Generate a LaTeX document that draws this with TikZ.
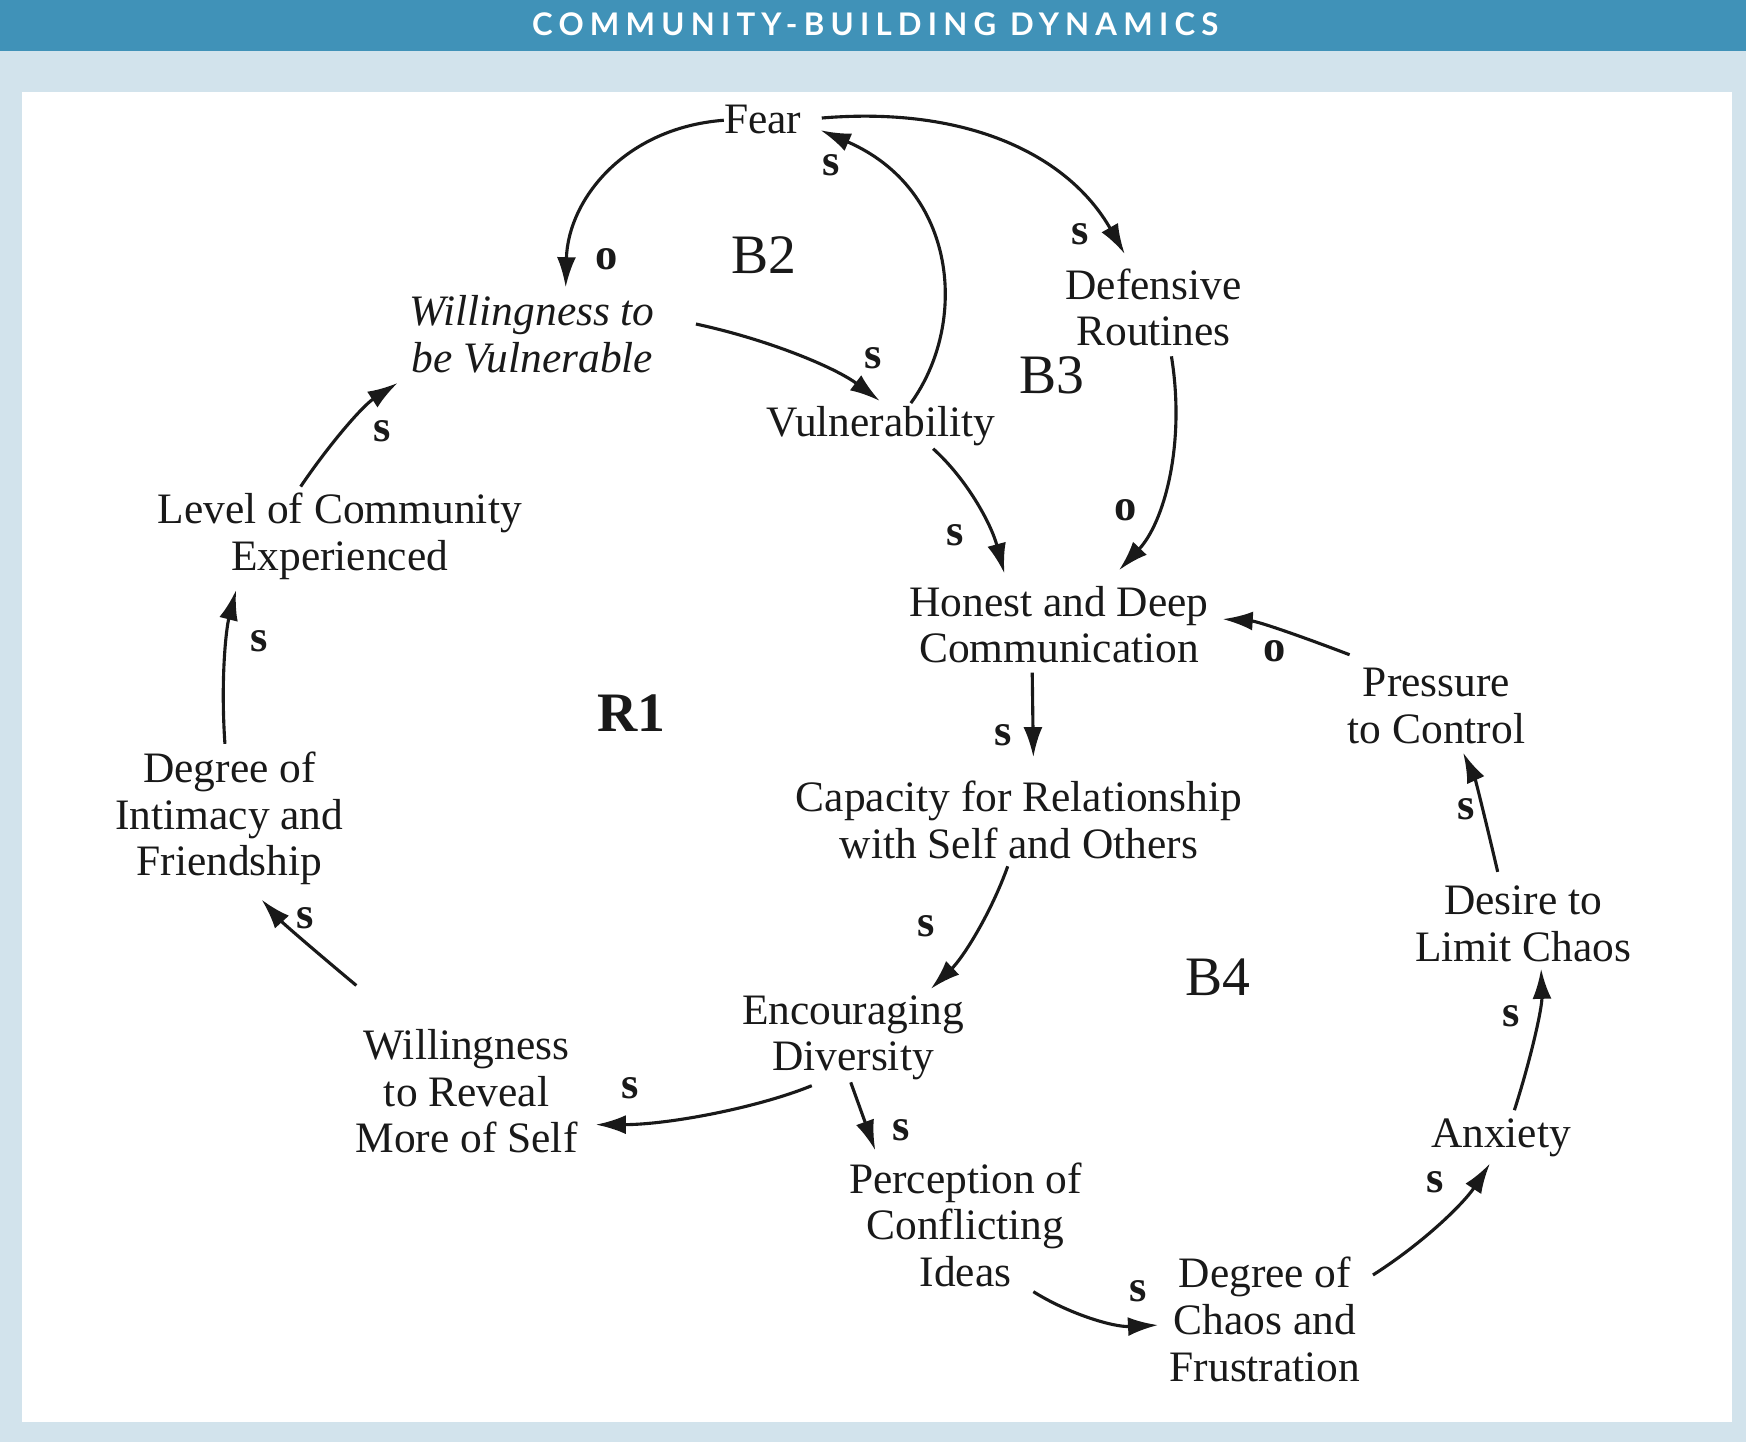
\documentclass[tikz,border=0pt]{standalone}
\usepackage{fontspec}
\setmainfont{Liberation Serif}
\newfontfamily\titlefont{Lato}[LetterSpace=20]
\usetikzlibrary{arrows.meta}
\definecolor{hdr}{RGB}{64,146,184}
\definecolor{bgl}{RGB}{210,227,236}
\definecolor{ink}{RGB}{25,25,25}
\begin{document}
\begin{tikzpicture}[x=1pt,y=1pt,
  var/.style={align=center,font=\fontsize{39}{42}\selectfont,inner sep=2pt,text=ink},
  varit/.style={var,font=\fontsize{39}{42}\selectfont\itshape},
  pol/.style={font=\fontsize{40}{40}\selectfont\bfseries,inner sep=0pt,text=ink},
  loopl/.style={font=\fontsize{50}{50}\selectfont,inner sep=0pt,text=ink},
  link/.style={line width=2.8pt,draw=ink,-{Latex[length=27pt,width=17pt]}},
]
\useasboundingbox (0,0) rectangle (1568,1295);
\fill[bgl] (0,0) rectangle (1568,1295);
\fill[hdr] (0,1249) rectangle (1568,1295);
\fill[white] (20,18) rectangle (1555,1212);
\node[text=white,font=\titlefont\bfseries\fontsize{28}{28}\selectfont] (title) at (786,1273) {COMMUNITY-BUILDING DYNAMICS};

% variables
\node[var] (fear) at (685,1188) {Fear};
\node[varit] (wtbv) at (478,995) {Willingness to\\be Vulnerable};
\node[var] (vuln) at (791,912) {Vulnerability};
\node[var] (def) at (1036,1019) {Defensive\\Routines};
\node[var] (level) at (305,813) {Level of Community\\Experienced};
\node[var] (honest) at (951,734) {Honest and Deep\\Communication};
\node[var] (press) at (1290,661) {Pressure\\to Control};
\node[var] (cap) at (915,559) {Capacity for Relationship\\with Self and Others};
\node[var] (intim) at (206,560) {Degree of\\Intimacy and\\Friendship};
\node[var] (desire) at (1368,465) {Desire to\\Limit Chaos};
\node[var] (enc) at (766,363) {Encouraging\\Diversity};
\node[var] (reveal) at (419,315) {Willingness\\to Reveal\\More of Self};
\node[var] (anx) at (1348,273) {Anxiety};
\node[var] (perc) at (867,195) {Perception of\\Conflicting\\Ideas};
\node[var] (chaos) at (1136,110) {Degree of\\Chaos and\\Frustration};

% loop labels
\node[loopl] (lb2) at (686,1066) {B2};
\node[loopl] (lb3) at (945,958) {B3};
\node[loopl,font=\fontsize{50}{50}\selectfont\bfseries] (lr1) at (567,655) {R1};
\node[loopl] (lb4) at (1094,417) {B4};

% connectors
\draw[link] ([shift={(-35,-1)}]fear.center) .. controls (560,1180) and (510,1115) .. ([shift={(30,42)}]wtbv.center);
\draw[link] ([shift={(27,21)}]vuln.center) .. controls (870,1005) and (860,1125) .. ([shift={(52,-10)}]fear.center);
\draw[link] ([shift={(53,1)}]fear.center) .. controls (870,1200) and (960,1155) .. ([shift={(-26,48)}]def.center);
\draw[link] ([shift={(147,9)}]wtbv.center) .. controls (690,990) and (750,965) .. ([shift={(-1,23)}]vuln.center);
\draw[link] ([shift={(16,-44)}]def.center) .. controls (1065,895) and (1045,825) .. ([shift={(54,49)}]honest.center);
\draw[link] ([shift={(47,-20)}]vuln.center) .. controls (868,865) and (890,825) .. ([shift={(-49,46)}]honest.center);
\draw[link] ([shift={(-78,46)}]press.center) .. controls (1170,723) and (1130,737) .. ([shift={(147,5)}]honest.center);
\draw[link] ([shift={(-24,-43)}]honest.center) -- ([shift={(13,56)}]cap.center);
\draw[link] ([shift={(-10,-42)}]cap.center) .. controls (890,475) and (865,435) .. ([shift={(70,44)}]enc.center);
\draw[link] ([shift={(-37,-43)}]enc.center) .. controls (680,300) and (600,285) .. ([shift={(116,-30)}]reveal.center);
\draw[link] ([shift={(-2,-40)}]enc.center) -- ([shift={(-81,67)}]perc.center);
\draw[link] ([shift={(61,-60)}]perc.center) .. controls (960,115) and (1000,103) .. ([shift={(-96,-5)}]chaos.center);
\draw[link] ([shift={(97,40)}]chaos.center) .. controls (1280,180) and (1315,215) .. ([shift={(-10,-23)}]anx.center);
\draw[link] ([shift={(12,25)}]anx.center) .. controls (1375,345) and (1385,390) .. ([shift={(16,-40)}]desire.center);
\draw[link] ([shift={(-23,47)}]desire.center) .. controls (1335,555) and (1325,595) .. ([shift={(24,-42)}]press.center);
\draw[link] ([shift={(-99,95)}]reveal.center) .. controls (290,435) and (255,465) .. ([shift={(29,-73)}]intim.center);
\draw[link] ([shift={(-4,67)}]intim.center) .. controls (198,685) and (203,730) .. ([shift={(-93,-48)}]level.center);
\draw[link] ([shift={(-35,45)}]level.center) .. controls (295,895) and (325,930) .. ([shift={(-121,-44)}]wtbv.center);

% polarity labels
\node[pol] (p1) at (545,1062) {o};
\node[pol] (p2) at (746,1147) {s};
\node[pol] (p3) at (970,1085) {s};
\node[pol] (p4) at (784,973) {s};
\node[pol] (p5) at (343,908) {s};
\node[pol] (p6) at (858,814) {s};
\node[pol] (p7) at (1011,837) {o};
\node[pol] (p8) at (1145,710) {o};
\node[pol] (p9) at (233,719) {s};
\node[pol] (p10) at (901,635) {s};
\node[pol] (p11) at (1317,568) {s};
\node[pol] (p12) at (274,470) {s};
\node[pol] (p13) at (832,463) {s};
\node[pol] (p14) at (1357,382) {s};
\node[pol] (p15) at (566,318) {s};
\node[pol] (p16) at (809,280) {s};
\node[pol] (p17) at (1289,233) {s};
\node[pol] (p18) at (1022,135) {s};
\end{tikzpicture}
\end{document}
